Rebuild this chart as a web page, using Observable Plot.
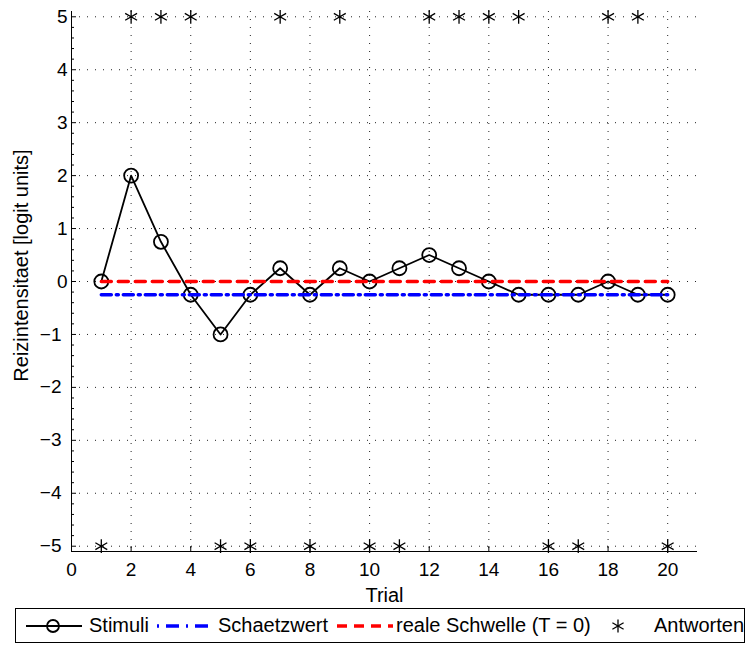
<!DOCTYPE html>
<html>
<head>
<meta charset="utf-8">
<script src="https://cdn.jsdelivr.net/npm/d3@7"></script>
<script src="https://cdn.jsdelivr.net/npm/@observablehq/plot@0.6"></script>
<style>
  body { margin: 0; background: #fff; font-family: "Liberation Sans", Arial, sans-serif; }
  #wrap { position: relative; width: 750px; height: 646px; }
  #chart { position: absolute; left: 0; top: 0; }
  #legend { position: absolute; left: 15px; top: 608px; width: 728px; height: 33px; border: 1.5px solid #000; background: #fff; font-size: 20px; }
  .item { position: absolute; top: 0; height: 33px; display: flex; align-items: center; white-space: nowrap; }
  .item svg { display: block; }
</style>
</head>
<body>
<div id="wrap"><div id="chart"></div><div id="legend"></div></div>
<script>
const trials = d3.range(1, 21);
const stimuli = [0, 2, 0.75, -0.25, -1, -0.25, 0.25, -0.25, 0.25, 0, 0.25, 0.5, 0.25, 0, -0.25, -0.25, -0.25, 0, -0.25, -0.25];
const schaetzwert = -0.25;
const schwelle = 0;
const antworten = [-5, 5, 5, 5, -5, -5, 5, -5, 5, -5, -5, 5, 5, 5, 5, -5, -5, 5, 5, -5];
const xTicks = d3.range(0, 21, 2);
const yTicks = d3.range(-5, 6, 1);
const yMinor = d3.range(-5, 5.01, 0.2).map(v => Math.round(v * 10) / 10).filter(v => !yTicks.includes(v));
const xLabel = "Trial";
const yLabel = "Reizintensitaet [logit units]";
const legendLabels = ["Stimuli", "Schaetzwert", "reale Schwelle (T = 0)", "Antworten"];

const stimData = trials.map((t, i) => ({trial: t, value: stimuli[i]}));
const antData = trials.map((t, i) => ({trial: t, value: antworten[i]}));
const estData = [{trial: trials[0], value: schaetzwert}, {trial: trials[trials.length - 1], value: schaetzwert}];
const thrData = [{trial: trials[0], value: schwelle}, {trial: trials[trials.length - 1], value: schwelle}];

const gridStyle = {stroke: "#222", strokeOpacity: 1, strokeWidth: 1, strokeDasharray: "1,7"};
const fmt = d => d < 0 ? "\u2212" + Math.abs(d) : String(d);

const chart = Plot.plot({
  width: 750,
  height: 606,
  marginLeft: 71,
  marginRight: 53,
  marginTop: 11,
  marginBottom: 55,
  style: {fontFamily: "'Liberation Sans', Arial, sans-serif", fontSize: "19px", color: "#000", background: "#fff"},
  x: {domain: [0, 21]},
  y: {domain: [-5.1, 5.1]},
  marks: [
    Plot.gridX(xTicks.filter(d => d > 0), gridStyle),
    Plot.gridY(yTicks, gridStyle),
    Plot.axisY(yMinor, {tickSize: -3, tickFormat: () => "", label: null}),
    Plot.axisY(yTicks.filter(d => d >= 0), {tickSize: -5, tickPadding: 9, tickFormat: fmt, label: null, fontSize: 19}),
    Plot.axisY(yTicks.filter(d => d < 0), {tickSize: -5, tickPadding: 15, tickFormat: fmt, label: null, fontSize: 19}),
    Plot.axisX(xTicks, {tickSize: -5, tickPadding: 16, label: null, fontSize: 19}),
    Plot.text([yLabel], {frameAnchor: "left", rotate: -90, dx: -50, dy: -16, textAnchor: "middle", lineAnchor: "middle", fontSize: 20}),
    Plot.text([xLabel], {frameAnchor: "bottom", dy: 36, textAnchor: "middle", lineAnchor: "top", fontSize: 20}),
    Plot.ruleX([0], {stroke: "#000"}),
    Plot.ruleY([-5.1], {stroke: "#000"}),
    Plot.line(stimData, {x: "trial", y: "value", stroke: "#000", strokeWidth: 1.8}),
    Plot.dot(stimData, {x: "trial", y: "value", r: 7, stroke: "#000", strokeWidth: 1.8, fill: "none"}),
    Plot.line(estData, {x: "trial", y: "value", stroke: "#0000ff", strokeWidth: 3.5, strokeDasharray: "10,5,2,5"}),
    Plot.line(thrData, {x: "trial", y: "value", stroke: "#ff0000", strokeWidth: 3.5, strokeDasharray: "10,7"}),
    Plot.dot(antData, {x: "trial", y: "value", symbol: "asterisk", r: 6.5, stroke: "#000", strokeWidth: 1.3})
  ]
});
document.getElementById("chart").appendChild(chart);

// legend
const legend = document.getElementById("legend");
const items = [
  {left: 9, sw: `<svg width="58" height="20"><line x1="1" y1="10" x2="57" y2="10" stroke="#000" stroke-width="1.8"/><circle cx="28" cy="10" r="6" fill="none" stroke="#000" stroke-width="1.8"/></svg>`, gap: 6, label: legendLabels[0]},
  {left: 140, sw: `<svg width="52" height="20"><line x1="1" y1="10" x2="52" y2="10" stroke="#0000ff" stroke-width="3.5" stroke-dasharray="2,7,13,7"/></svg>`, gap: 10, label: legendLabels[1]},
  {left: 320, sw: `<svg width="57" height="20"><line x1="1" y1="10" x2="57" y2="10" stroke="#ff0000" stroke-width="3.5" stroke-dasharray="10,7"/></svg>`, gap: 3, label: legendLabels[2]},
  {left: 594, sw: `<svg width="16" height="20"><g stroke="#000" stroke-width="1.3" transform="translate(8,10)"><line x1="0" y1="-6.5" x2="0" y2="6.5"/><line x1="-5.6" y1="-3.2" x2="5.6" y2="3.2"/><line x1="-5.6" y1="3.2" x2="5.6" y2="-3.2"/></g></svg>`, gap: 28, label: legendLabels[3]}
];
for (const it of items) {
  const d = document.createElement("div");
  d.className = "item";
  d.style.left = it.left + "px";
  d.innerHTML = it.sw + `<span style="margin-left:${it.gap}px">${it.label}</span>`;
  legend.appendChild(d);
}
</script>
</body>
</html>
